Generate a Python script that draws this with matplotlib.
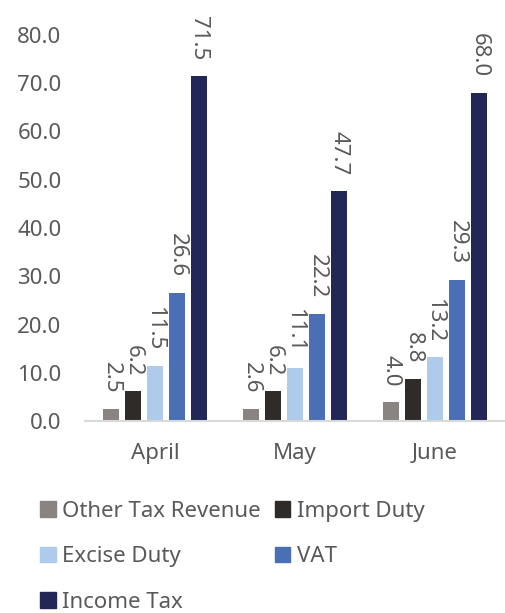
import matplotlib
matplotlib.use("Agg")
import matplotlib.pyplot as plt
from matplotlib.patches import Patch
import numpy as np

months = ["April", "May", "June"]
series = ["Other Tax Revenue", "Import Duty", "Excise Duty", "VAT", "Income Tax"]
other_tax = [2.5, 2.6, 4.0]
import_duty = [6.2, 6.2, 8.8]
excise_duty = [11.5, 11.1, 13.2]
vat = [26.6, 22.2, 29.3]
income_tax = [71.5, 47.7, 68.0]
yticks = [0, 10, 20, 30, 40, 50, 60, 70, 80]

values = [other_tax, import_duty, excise_duty, vat, income_tax]
colors = ["#898481", "#2F2B28", "#AECBEB", "#4A6FB5", "#232757"]

plt.rcParams['font.family'] = ['Noto Sans', 'DejaVu Sans']
text_color = "#595959"
fs = 16

fig = plt.figure(figsize=(5.06, 6.13), dpi=100)
ax = fig.add_axes([0.168, 0.313, 0.830, 0.630])

x = np.arange(len(months))
pitch = 0.157
width = 0.12
for i, (vals, c) in enumerate(zip(values, colors)):
    pos = x + (i - 2) * pitch
    ax.bar(pos, vals, width=width, color=c, label=series[i], zorder=2)
    for xp, v in zip(pos, vals):
        ax.annotate(f"{v:.1f}", (xp, v), xytext=(0, 11), textcoords="offset points",
                    rotation=270, ha="center", va="bottom", fontsize=fs, color=text_color)

ax.set_xlim(-0.5, 2.5)
ax.set_ylim(0, 80)
ax.set_yticks(yticks)
ax.set_yticklabels([f"{t:.1f}" for t in yticks])
ax.set_xticks(x)
ax.set_xticklabels(months)
ax.tick_params(axis="both", length=0, labelsize=fs, colors=text_color)
ax.tick_params(axis="x", pad=16)
ax.tick_params(axis="y", pad=17)
for s in ["top", "right", "left"]:
    ax.spines[s].set_visible(False)
ax.spines["bottom"].set_color("#D9D9D9")
ax.spines["bottom"].set_linewidth(1.5)

order = [0, 2, 4, 1, 3]
handles = [Patch(color=colors[i], label=series[i]) for i in order]
leg = fig.legend(handles=handles, loc="upper left", bbox_to_anchor=(0.080, 0.183),
                 ncol=2, frameon=False, fontsize=fs, handlelength=0.68, handleheight=0.68,
                 handletextpad=0.3, columnspacing=0.65, labelspacing=1.1, borderaxespad=0,
                 borderpad=0)
for t in leg.get_texts():
    t.set_color(text_color)

fig.savefig("out.png", dpi=100)
